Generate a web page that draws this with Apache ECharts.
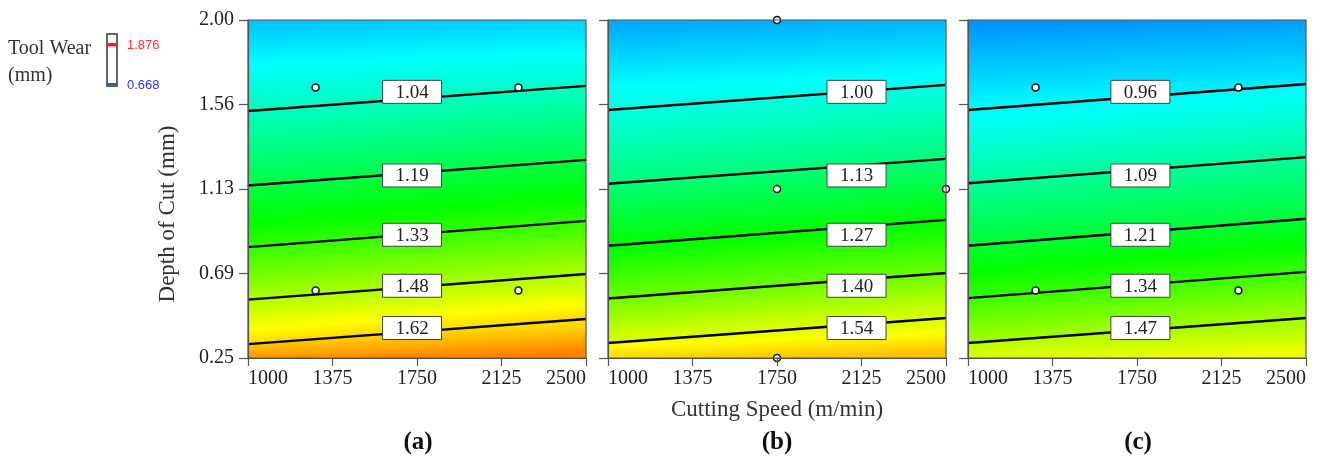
<!DOCTYPE html>
<html>
<head>
<meta charset="utf-8">
<script src="https://cdn.jsdelivr.net/npm/echarts@6/dist/echarts.min.js"></script>
<style>
  html, body { margin: 0; padding: 0; background: #fff; }
  #main { width: 1322px; height: 463px; }
</style>
</head>
<body>
<div id="main"></div>
<script>
// axes
var speedRange = [1000, 2500];
var depthRange = [0.25, 2.00];
var speedTicks = [1000, 1375, 1750, 2125, 2500];
var depthTicks = [0.25, 0.6875, 1.125, 1.5625, 2.00];
var depthTickLabels = ['0.25', '0.69', '1.13', '1.56', '2.00'];
var wearRange = [0.668, 1.876];

// (a) contour levels, depth where each contour meets speed 1000 and 2500
var levelsA = [1.04, 1.19, 1.33, 1.48, 1.62];
var depthLeftA = [1.529, 1.143, 0.824, 0.552, 0.322];
var depthRightA = [1.659, 1.276, 0.960, 0.685, 0.452];
var topWearA = [0.89, 0.92];      // wear at depth 2.00, speed 1000 / 2500
var bottomWearA = [1.67, 1.77];   // wear at depth 0.25
var pointsA = [[1300, 1.65], [2200, 1.65], [1300, 0.60], [2200, 0.60]];

// (b)
var levelsB = [1.00, 1.13, 1.27, 1.40, 1.54];
var depthLeftB = [1.534, 1.152, 0.831, 0.558, 0.328];
var depthRightB = [1.664, 1.281, 0.965, 0.690, 0.457];
var topWearB = [0.85, 0.89];
var bottomWearB = [1.61, 1.68];
var pointsB = [[1750, 2.00], [1750, 1.125], [2500, 1.125], [1750, 0.25]];

// (c)
var levelsC = [0.96, 1.09, 1.21, 1.34, 1.47];
var depthLeftC = [1.534, 1.155, 0.831, 0.560, 0.328];
var depthRightC = [1.669, 1.290, 0.971, 0.696, 0.457];
var topWearC = [0.83, 0.86];
var bottomWearC = [1.52, 1.59];
var pointsC = [[1300, 1.65], [2200, 1.65], [1300, 0.60], [2200, 0.60]];

// where the value boxes sit
var labelSpeeds = [1728, 2103, 1765];
var labelDepths = [1.628, 1.195, 0.888, 0.624, 0.405];
var panelNames = ['(a)', '(b)', '(c)'];

var rainbow = [[0, 0, 255], [0, 255, 255], [0, 255, 0], [255, 255, 0], [255, 0, 0]];
function wearColor(v) {
    var f = (v - wearRange[0]) / (wearRange[1] - wearRange[0]);
    f = Math.max(0, Math.min(1, f)) * 4;
    var i = Math.min(Math.floor(f), 3), t = f - i;
    var c = rainbow[i].map(function (a, k) { return Math.round(a + (rainbow[i + 1][k] - a) * t); });
    return 'rgb(' + c.join(',') + ')';
}

function bandData(levels, dL, dR, topW, botW) {
    var b = [[depthRange[1], depthRange[1], topW[0], topW[1]]];
    levels.forEach(function (v, i) { b.push([dL[i], dR[i], v, v]); });
    b.push([depthRange[0], depthRange[0], botW[0], botW[1]]);
    var out = [];
    for (var i = 0; i < b.length - 1; i++) {
        out.push([b[i][0], b[i][1], b[i + 1][0], b[i + 1][1], b[i][2], b[i][3], b[i + 1][2], b[i + 1][3]]);
    }
    return out;
}

function renderBand(params, api) {
    var U0 = api.coord([speedRange[0], api.value(0)]);
    var U1 = api.coord([speedRange[1], api.value(1)]);
    var L0 = api.coord([speedRange[0], api.value(2)]);
    var L1 = api.coord([speedRange[1], api.value(3)]);
    var vU = (api.value(4) + api.value(5)) / 2;
    var vL = (api.value(6) + api.value(7)) / 2;
    var Um = [(U0[0] + U1[0]) / 2, (U0[1] + U1[1]) / 2];
    var Lm = [(L0[0] + L1[0]) / 2, (L0[1] + L1[1]) / 2];
    var dx = (U1[0] - U0[0] + L1[0] - L0[0]) / 2, dy = (U1[1] - U0[1] + L1[1] - L0[1]) / 2;
    var len = Math.sqrt(dx * dx + dy * dy); dx /= len; dy /= len;
    var nx = -dy, ny = dx;
    var t = (Lm[0] - Um[0]) * nx + (Lm[1] - Um[1]) * ny;
    var stops = [];
    for (var k = 0; k <= 10; k++) {
        stops.push({ offset: k / 10, color: wearColor(vU + (vL - vU) * k / 10) });
    }
    return {
        type: 'polygon',
        shape: { points: [U0, U1, L1, L0] },
        style: { fill: new echarts.graphic.LinearGradient(Um[0], Um[1], Um[0] + nx * t, Um[1] + ny * t, stops, true) }
    };
}

// white value box on a contour
function renderBox(params, api) {
    var c = api.coord([api.value(0), api.value(1)]);
    var w = 59, h = 23;
    return {
        type: 'group',
        children: [
            { type: 'rect', shape: { x: c[0] - w / 2, y: c[1] - h / 2, width: w, height: h },
              style: { fill: '#fff', stroke: '#444', lineWidth: 1 } },
            { type: 'text', x: c[0], y: c[1] + 1,
              style: { text: api.value(2).toFixed(2), font: '19px "Liberation Serif"', fill: '#222',
                       align: 'center', verticalAlign: 'middle' } }
        ]
    };
}

var panels = [
    { levels: levelsA, dL: depthLeftA, dR: depthRightA, top: topWearA, bot: bottomWearA, pts: pointsA },
    { levels: levelsB, dL: depthLeftB, dR: depthRightB, top: topWearB, bot: bottomWearB, pts: pointsB },
    { levels: levelsC, dL: depthLeftC, dR: depthRightC, top: topWearC, bot: bottomWearC, pts: pointsC }
];
var gridLefts = [248, 608, 968];
var serif = 'Liberation Serif';

var grids = [], xAxes = [], yAxes = [], series = [];
panels.forEach(function (p, i) {
    grids.push({ left: gridLefts[i], top: 20, width: 338, height: 338, show: true, z: 5,
        backgroundColor: 'transparent', borderColor: '#555', borderWidth: 1.2 });
    xAxes.push({
        gridIndex: i, type: 'value', min: speedRange[0], max: speedRange[1], z: 5,
        name: i === 1 ? 'Cutting Speed (m/min)' : '', nameLocation: 'middle', nameGap: 40,
        nameTextStyle: { fontFamily: serif, fontSize: 23, color: '#333' },
        splitLine: { show: false },
        axisLine: { show: true, lineStyle: { color: '#555', width: 1.2 } },
        axisTick: { show: true, customValues: speedTicks, length: 8, lineStyle: { color: '#555', width: 1.2 } },
        axisLabel: { customValues: speedTicks, alignMinLabel: 'left', alignMaxLabel: 'right', margin: 11,
            fontFamily: serif, fontSize: 20, color: '#222',
            formatter: function (v) { return String(v); } }
    });
    yAxes.push({
        gridIndex: i, type: 'value', min: depthRange[0], max: depthRange[1], z: 5,
        splitLine: { show: false },
        axisLine: { show: true, lineStyle: { color: '#555', width: 1.2 } },
        axisTick: { show: true, customValues: depthTicks, length: 9, lineStyle: { color: '#555', width: 1.2 } },
        axisLabel: { show: i === 0, customValues: depthTicks, margin: 14, fontFamily: serif, fontSize: 20, color: '#222',
            formatter: function (v) {
                var best = 0;
                depthTicks.forEach(function (d, k) { if (Math.abs(d - v) < Math.abs(depthTicks[best] - v)) best = k; });
                return depthTickLabels[best];
            } }
    });
    series.push({
        type: 'custom', xAxisIndex: i, yAxisIndex: i, z: 1, silent: true,
        renderItem: renderBand,
        data: bandData(p.levels, p.dL, p.dR, p.top, p.bot)
    });
    p.levels.forEach(function (v, k) {
        series.push({
            type: 'line', xAxisIndex: i, yAxisIndex: i, z: 2, silent: true, showSymbol: false,
            lineStyle: { color: '#000', width: 2.4 },
            data: [[speedRange[0], p.dL[k]], [speedRange[1], p.dR[k]]]
        });
    });
    series.push({
        type: 'scatter', xAxisIndex: i, yAxisIndex: i, z: 3, silent: true, clip: false,
        symbol: 'circle', symbolSize: 7,
        itemStyle: { color: '#fff', borderColor: '#111', borderWidth: 1.5, opacity: 1 },
        data: p.pts
    });
    series.push({
        type: 'custom', xAxisIndex: i, yAxisIndex: i, z: 4, silent: true,
        renderItem: renderBox,
        data: p.levels.map(function (v, k) { return [labelSpeeds[i], labelDepths[k], v]; })
    });
});

var graphics = [
    { type: 'text', x: 168, y: 214, rotation: Math.PI / 2,
      style: { text: 'Depth of Cut (mm)', font: '23px "Liberation Serif"', fill: '#333', align: 'center', verticalAlign: 'middle' } },
    { type: 'text', x: 8, y: 49, style: { text: 'Tool Wear', font: '20px "Liberation Serif"', fill: '#333', verticalAlign: 'middle' } },
    { type: 'text', x: 8, y: 76, style: { text: '(mm)', font: '20px "Liberation Serif"', fill: '#333', verticalAlign: 'middle' } },
    { type: 'rect', shape: { x: 107, y: 34, width: 10, height: 52 }, style: { fill: '#fff', stroke: '#333', lineWidth: 1.5 } },
    { type: 'line', shape: { x1: 106, y1: 44.7, x2: 118, y2: 44.7 }, style: { stroke: '#ff2020', lineWidth: 3.5 } },
    { type: 'line', shape: { x1: 106, y1: 84.7, x2: 118, y2: 84.7 }, style: { stroke: '#3a5aa8', lineWidth: 3.5 } },
    { type: 'text', x: 127, y: 45, style: { text: wearRange[1].toFixed(3), font: '13px "Liberation Sans"', fill: '#ff3030', verticalAlign: 'middle' } },
    { type: 'text', x: 127, y: 85, style: { text: wearRange[0].toFixed(3), font: '13px "Liberation Sans"', fill: '#3030ff', verticalAlign: 'middle' } }
];
[418, 777, 1138].forEach(function (x, i) {
    graphics.push({ type: 'text', x: x, y: 443,
        style: { text: panelNames[i], font: 'bold 25px "Liberation Serif"', fill: '#111', align: 'center', verticalAlign: 'middle' } });
});

var chart = echarts.init(document.getElementById('main'));
chart.setOption({
    animation: false,
    backgroundColor: '#fff',
    grid: grids,
    xAxis: xAxes,
    yAxis: yAxes,
    series: series,
    graphic: graphics
});
</script>
</body>
</html>
